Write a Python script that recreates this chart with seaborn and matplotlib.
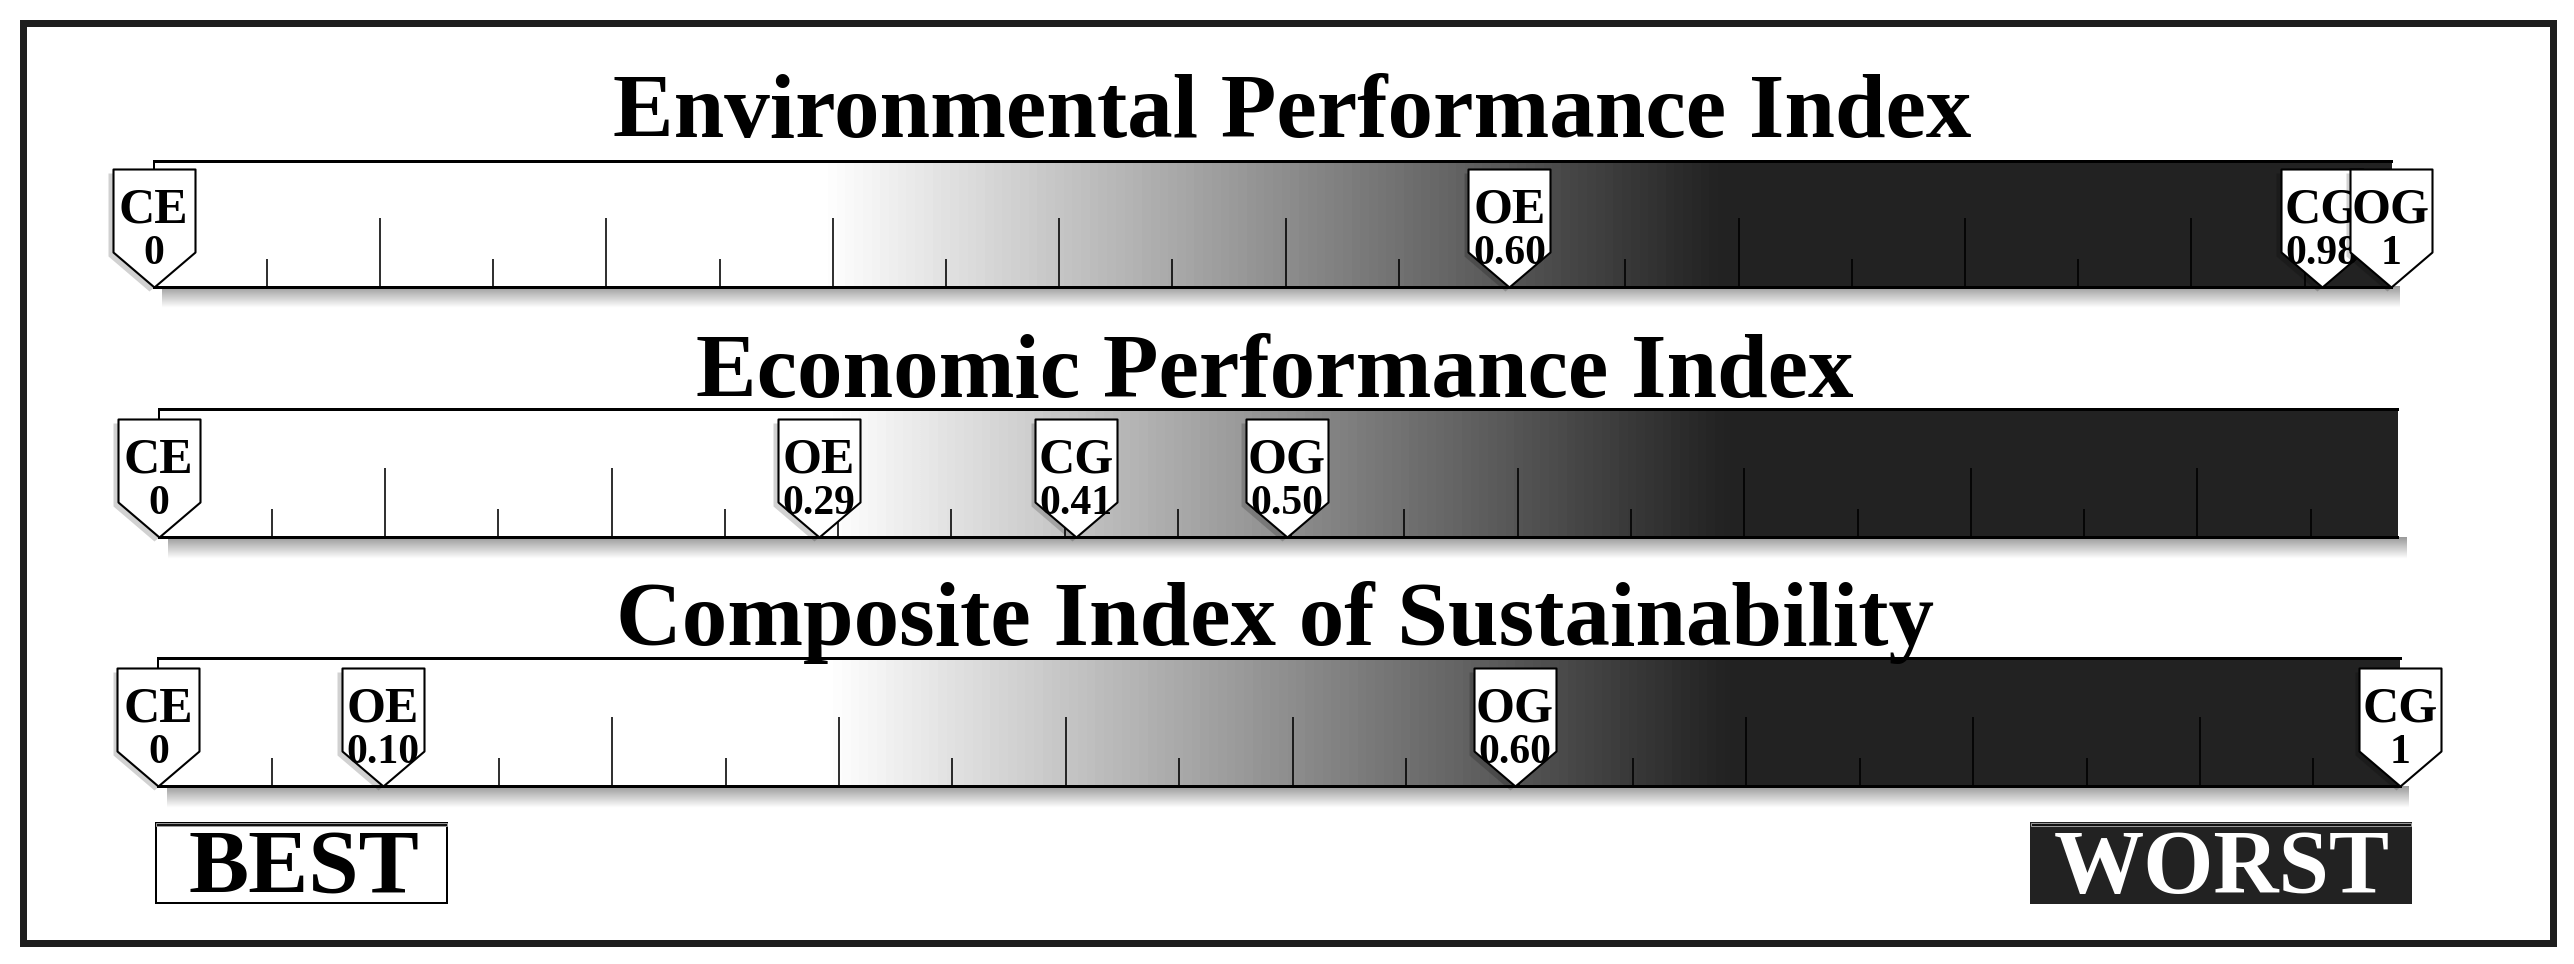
import numpy as np
import matplotlib
matplotlib.use("Agg")
import matplotlib.pyplot as plt
import seaborn as sns
from matplotlib.path import Path
from matplotlib.colors import LinearSegmentedColormap
from matplotlib.patches import Rectangle

# ---------------- data ----------------
titles = ["Environmental Performance Index",
          "Economic Performance Index",
          "Composite Index of Sustainability"]

env_codes = ["CE", "OE", "CG", "OG"]
env_text = ["0", "0.60", "0.98", "1"]
env_pos = [0.0, 0.606, 0.969, 1.0]

eco_codes = ["CE", "OE", "CG", "OG"]
eco_text = ["0", "0.29", "0.41", "0.50"]
eco_pos = [0.0, 0.295, 0.41, 0.504]

cis_codes = ["CE", "OE", "OG", "CG"]
cis_text = ["0", "0.10", "0.60", "1"]
cis_pos = [0.0, 0.10, 0.605, 1.0]

end_labels = ["BEST", "WORST"]

# ruler ticks (every other one is long)
tick_step = 0.0506
ticks = tick_step * np.arange(1, 20)
major_ticks = ticks[1::2]
minor_ticks = ticks[0::2]

# ---------------- style ----------------
sns.set_theme(style="white")
plt.rcParams["font.family"] = ["Liberation Serif", "DejaVu Serif"]

W, H = 2574, 964
DPI = 100
PT = 72.0 / DPI  # points per pixel

fig = plt.figure(figsize=(W / DPI, H / DPI), dpi=DPI)
fig.patch.set_facecolor("white")


def fx(px):
    return px / W


def fy(py):
    return 1 - py / H


# bar boxes in pixels: x at 0, x at 1, top, bottom
bar_boxes = [(153.5, 2391.0, 160.7, 287.0),
             (158.6, 2397.0, 409.0, 537.0),
             (158.4, 2400.0, 657.7, 786.0)]
title_pos = [(1292, 137.3), (1275, 397.3), (1275, 645.0)]
bars = [(env_codes, env_text, env_pos),
        (eco_codes, eco_text, eco_pos),
        (cis_codes, cis_text, cis_pos)]

cmap = LinearSegmentedColormap.from_list(
    "ramp", [(0.0, "#ffffff"), (0.30, "#ffffff"), (0.70, "#222222"), (1.0, "#222222")])

# marker shape (pixels, tip at origin)
mk_w, mk_side, mk_h = 41.0, 35.0, 118.0
marker_path = Path([(0, 0), (mk_w, mk_side), (mk_w, mk_h), (-mk_w, mk_h),
                    (-mk_w, mk_side), (0, 0)],
                   [Path.MOVETO, Path.LINETO, Path.LINETO, Path.LINETO,
                    Path.LINETO, Path.CLOSEPOLY])
marker_s = (2 * mk_h * PT) ** 2

for (x0, x1, yt, yb), (codes, texts, pos), title, (tx, ty) in zip(
        bar_boxes, bars, titles, title_pos):
    ax = fig.add_axes([fx(x0), fy(yb), fx(x1) - fx(x0), (yb - yt) / H])
    ax.imshow(np.linspace(0, 1, 600)[None, :], extent=[0, 1, 0, 1],
              aspect="auto", cmap=cmap, vmin=0, vmax=1, zorder=0,
              interpolation="bilinear")
    # soft drop shadow below the bar
    sh = np.zeros((40, 2, 4))
    sh[:, :, 3] = np.linspace(0.4, 0.0, 40)[:, None]
    im = ax.imshow(sh, extent=[0.004, 1.004, -0.17, 0.0], aspect="auto",
                   zorder=0, interpolation="bilinear")
    im.set_clip_on(False)

    for i, (code, txt, p) in enumerate(zip(codes, texts, pos)):
        z = 5 + 2 * i
        sns.scatterplot(x=[p - 0.002], y=[-0.03], marker=marker_path,
                        s=marker_s, color="black", alpha=0.18, linewidth=0,
                        ax=ax, zorder=z - 0.5, clip_on=False, legend=False)
        sns.scatterplot(x=[p], y=[0.0], marker=marker_path, s=marker_s,
                        color="white", edgecolor="black", linewidth=1.5,
                        ax=ax, zorder=z, clip_on=False, legend=False)
        ax.annotate(code, xy=(p, 0), xytext=(0, 64.5 * PT),
                    textcoords="offset points", ha="center", va="baseline",
                    fontsize=36, fontweight="bold", color="black",
                    zorder=z + 0.2, annotation_clip=False)
        ax.annotate(txt, xy=(p, 0), xytext=(0, 23 * PT),
                    textcoords="offset points", ha="center", va="baseline",
                    fontsize=30, fontweight="bold", color="black",
                    zorder=z + 0.2, annotation_clip=False)

    ax.set_xlim(0, 1)
    ax.set_ylim(0, 1)
    ax.set_xlabel("")
    ax.set_ylabel("")
    ax.set_yticks([])
    ax.set_xticks(major_ticks)
    ax.set_xticks(minor_ticks, minor=True)
    ax.tick_params(axis="x", which="major", direction="in", length=69 * PT,
                   width=1.6 * PT, color="black", bottom=True, top=False,
                   labelbottom=False)
    ax.tick_params(axis="x", which="minor", direction="in", length=28 * PT,
                   width=1.6 * PT, color="black", bottom=True, top=False,
                   labelbottom=False)
    for side in ["top", "bottom"]:
        ax.spines[side].set_visible(True)
        ax.spines[side].set_color("black")
        ax.spines[side].set_linewidth(3 * PT)
    ax.spines["left"].set_visible(True)
    ax.spines["left"].set_color("black")
    ax.spines["left"].set_linewidth(2 * PT)
    ax.spines["right"].set_visible(False)
    ax.set_facecolor("none")

    fig.text(fx(tx), fy(ty), title, ha="center", va="baseline",
             fontsize=65.5, fontweight="bold", color="black")

# BEST / WORST boxes
box_specs = [((156, 823, 447, 903), "white", "black"),
             ((2031, 823, 2411, 903), "#222222", "#222222")]
for (bx0, by0, bx1, by1), fc, ec in box_specs:
    fig.add_artist(Rectangle((fx(bx0), fy(by1)), fx(bx1) - fx(bx0),
                             (by1 - by0) / H, transform=fig.transFigure,
                             facecolor=fc, edgecolor=ec, linewidth=2 * PT))
    # bevel line along the top edge
    fig.add_artist(Rectangle((fx(bx0), fy(by0 + 3)), fx(bx1) - fx(bx0),
                             3 / H, transform=fig.transFigure,
                             facecolor="#111111", edgecolor="#9a9a9a",
                             linewidth=1 * PT))
for label, cx, col in zip(end_labels, [304, 2222], ["black", "white"]):
    fig.text(fx(cx), fy(893), label, ha="center", va="baseline",
             fontsize=65, fontweight="bold", color=col)

# outer frame
fig.add_artist(Rectangle((fx(23.3), fy(943)), fx(2553) - fx(23.3),
                         (943 - 22.5) / H, transform=fig.transFigure,
                         facecolor="none", edgecolor="#1e1e1e",
                         linewidth=7 * PT))

fig.savefig("out.png", dpi=DPI)
